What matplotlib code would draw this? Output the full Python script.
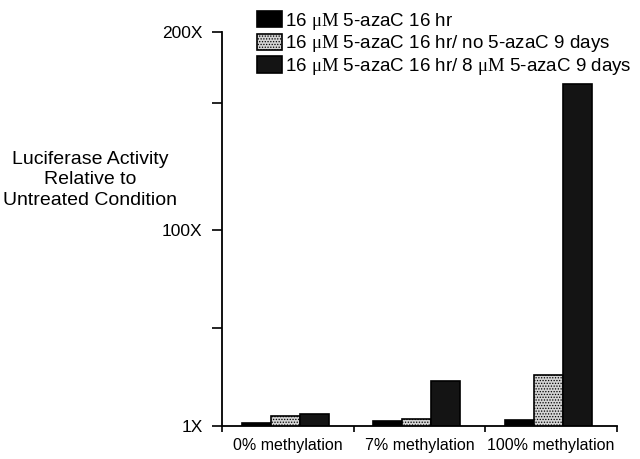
import matplotlib
matplotlib.use("Agg")
import matplotlib.pyplot as plt
import numpy as np

plt.rcParams['font.family'] = ['Liberation Sans', 'DejaVu Sans']
plt.rcParams['mathtext.fontset'] = 'custom'
plt.rcParams['mathtext.rm'] = 'Liberation Serif'
plt.rcParams['hatch.linewidth'] = 0.6

# data
categories = ["0% methylation", "7% methylation", "100% methylation"]
series_names = [r"16 $\mathrm{\mu M}$ 5-azaC 16 hr",
                r"16 $\mathrm{\mu M}$ 5-azaC 16 hr/ no 5-azaC 9 days",
                r"16 $\mathrm{\mu M}$ 5-azaC 16 hr/ 8 $\mathrm{\mu M}$ 5-azaC 9 days"]
black_vals = [2.5, 3.4, 3.9]
light_vals = [6.0, 4.7, 26.8]
dark_vals = [7.0, 23.5, 173.5]
yticks = [1, 100, 200]
ytick_labels = ["1X", "100X", "200X"]

fig = plt.figure(figsize=(6.4, 4.59), dpi=100)
ax = fig.add_axes([0.347, 0.072, 0.617, 0.859])

x = np.arange(len(categories))
offsets = [-0.24, -0.02, 0.20]
width = 0.22
styles = [
    dict(facecolor='black', edgecolor='black', hatch=None),
    dict(facecolor='#d4d4d4', edgecolor='black', hatch='......'),
    dict(facecolor='#141414', edgecolor='black', hatch=None),
]
handles = []
for vals, off, st, name in zip([black_vals, light_vals, dark_vals], offsets, styles, series_names):
    b = ax.bar(x + off, vals, width, facecolor=st['facecolor'], edgecolor=st['edgecolor'],
               linewidth=1.2, label=name)
    if st['hatch']:
        for p in b:
            p.set_hatch(st['hatch'])
    handles.append(b)

ax.set_xlim(-0.5, 2.5)
ax.set_ylim(1, 200)
for s in ['top', 'right']:
    ax.spines[s].set_visible(False)
ax.spines['left'].set_linewidth(1.3)
ax.spines['bottom'].set_linewidth(1.3)

ax.set_yticks(yticks)
ax.set_yticklabels(ytick_labels, fontsize=12.5)
ax.set_yticks([50.5, 164], minor=True)
ax.tick_params(axis='y', which='both', direction='out', length=7, width=1.2, pad=7)

ax.set_xticks([-0.5, 0.5, 1.5, 2.5])
ax.set_xticklabels([])
ax.set_xticks(x, minor=True)
ax.set_xticklabels(categories, minor=True, fontsize=11.5)
ax.tick_params(axis='x', which='major', direction='out', length=4, width=1.2)
ax.tick_params(axis='x', which='minor', length=0, pad=9)

fig.text(90 / 640, 1 - 180 / 459, "Luciferase Activity\nRelative to\nUntreated Condition",
         ha='center', va='center', fontsize=14, linespacing=1.3)

fig.legend(handles=handles, loc='upper left', bbox_to_anchor=(249 / 640, 1 - 3 / 459),
           frameon=False, fontsize=13.5, handlelength=1.35, handleheight=1.0,
           handletextpad=0.15, labelspacing=0.1, borderaxespad=0)

fig.savefig("out.png", dpi=100)
